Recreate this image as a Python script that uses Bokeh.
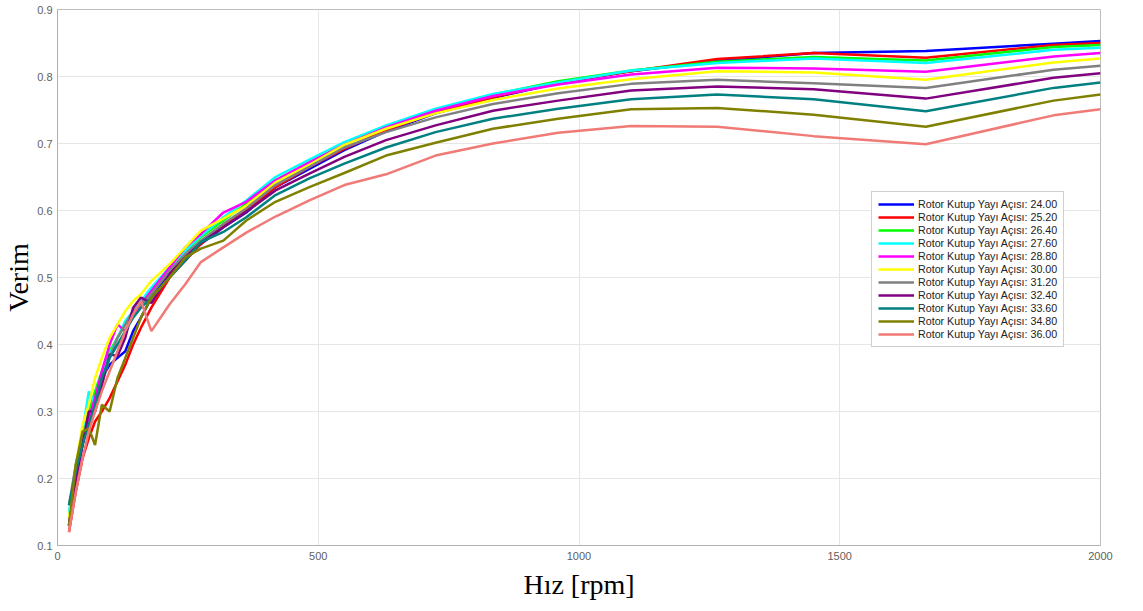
from bokeh.plotting import figure
from bokeh.models import Range1d, FixedTicker, Legend, LegendItem
from bokeh.embed import file_html
from bokeh.resources import INLINE

speed = [22, 35, 48, 60, 72, 85, 100, 115, 130, 145, 160, 180, 215, 245, 275, 318, 362, 418,
         483, 550, 630, 725, 835, 960, 1100, 1265, 1450, 1665, 1910, 2000]

angles = ["24.00", "25.20", "26.40", "27.60", "28.80", "30.00", "31.20", "32.40", "33.60", "34.80", "36.00"]

eff_2400 = [0.13, 0.20, 0.25, 0.29, 0.32, 0.35, 0.37, 0.38, 0.39, 0.42, 0.44, 0.47, 0.51, 0.53, 0.55, 0.575,
            0.597, 0.635, 0.662, 0.690, 0.718, 0.745, 0.768, 0.790, 0.808, 0.823, 0.835, 0.838, 0.849, 0.853]
eff_2520 = [0.12, 0.18, 0.23, 0.26, 0.285, 0.30, 0.32, 0.345, 0.37, 0.40, 0.425, 0.455, 0.50, 0.525, 0.55, 0.578,
            0.600, 0.635, 0.665, 0.692, 0.720, 0.746, 0.769, 0.791, 0.808, 0.826, 0.835, 0.828, 0.847, 0.850]
eff_2640 = [0.14, 0.21, 0.26, 0.30, 0.33, 0.36, 0.39, 0.41, 0.43, 0.45, 0.465, 0.48, 0.515, 0.54, 0.56, 0.585,
            0.610, 0.645, 0.672, 0.698, 0.724, 0.750, 0.773, 0.793, 0.809, 0.822, 0.829, 0.824, 0.844, 0.847]
eff_2760 = [0.15, 0.22, 0.27, 0.33, 0.31, 0.35, 0.385, 0.41, 0.435, 0.45, 0.465, 0.485, 0.515, 0.54, 0.562, 0.59,
            0.615, 0.650, 0.676, 0.702, 0.727, 0.752, 0.774, 0.791, 0.809, 0.820, 0.827, 0.820, 0.840, 0.843]
eff_2880 = [0.13, 0.20, 0.25, 0.29, 0.32, 0.36, 0.40, 0.43, 0.42, 0.445, 0.46, 0.48, 0.515, 0.545, 0.565, 0.597,
            0.613, 0.645, 0.672, 0.698, 0.724, 0.749, 0.771, 0.788, 0.803, 0.813, 0.812, 0.807, 0.830, 0.835]
eff_3000 = [0.14, 0.22, 0.28, 0.31, 0.35, 0.38, 0.41, 0.43, 0.45, 0.465, 0.475, 0.495, 0.52, 0.545, 0.57, 0.588,
            0.607, 0.642, 0.668, 0.698, 0.722, 0.745, 0.765, 0.782, 0.796, 0.808, 0.806, 0.795, 0.821, 0.827]
eff_3120 = [0.16, 0.22, 0.26, 0.28, 0.30, 0.34, 0.38, 0.41, 0.43, 0.45, 0.46, 0.475, 0.51, 0.535, 0.555, 0.58,
            0.603, 0.638, 0.665, 0.694, 0.717, 0.739, 0.759, 0.775, 0.789, 0.795, 0.790, 0.783, 0.810, 0.816]
eff_3240 = [0.13, 0.20, 0.25, 0.30, 0.30, 0.34, 0.385, 0.383, 0.41, 0.455, 0.47, 0.462, 0.505, 0.53, 0.552, 0.575,
            0.598, 0.630, 0.655, 0.680, 0.705, 0.727, 0.749, 0.764, 0.779, 0.785, 0.781, 0.767, 0.798, 0.805]
eff_3360 = [0.16, 0.21, 0.25, 0.28, 0.31, 0.35, 0.38, 0.40, 0.42, 0.44, 0.455, 0.47, 0.50, 0.525, 0.553, 0.568,
            0.590, 0.623, 0.648, 0.670, 0.694, 0.717, 0.737, 0.752, 0.766, 0.773, 0.766, 0.748, 0.783, 0.791]
eff_3480 = [0.13, 0.22, 0.27, 0.275, 0.25, 0.31, 0.30, 0.35, 0.38, 0.41, 0.44, 0.47, 0.50, 0.53, 0.543, 0.555,
            0.585, 0.613, 0.635, 0.656, 0.682, 0.701, 0.722, 0.737, 0.751, 0.753, 0.743, 0.725, 0.764, 0.773]
eff_3600 = [0.12, 0.18, 0.23, 0.27, 0.30, 0.33, 0.36, 0.39, 0.42, 0.445, 0.465, 0.42, 0.46, 0.49, 0.523, 0.545,
            0.567, 0.591, 0.615, 0.638, 0.654, 0.682, 0.700, 0.716, 0.726, 0.725, 0.711, 0.699, 0.742, 0.751]

series = [eff_2400, eff_2520, eff_2640, eff_2760, eff_2880, eff_3000,
          eff_3120, eff_3240, eff_3360, eff_3480, eff_3600]
colors = ["#0000ff", "#ff0000", "#00ff00", "#00ffff", "#ff00ff", "#ffff00",
          "#808080", "#800080", "#008080", "#808000", "#f07a76"]

x_ticks = [0, 500, 1000, 1500, 2000]
y_ticks = [0.1, 0.2, 0.3, 0.4, 0.5, 0.6, 0.7, 0.8, 0.9]

p = figure(width=1143, height=611, output_backend="svg", toolbar_location=None,
           x_range=Range1d(0, 2000), y_range=Range1d(0.1, 0.9),
           min_border_left=50, min_border_right=43, min_border_top=9, min_border_bottom=66)

p.background_fill_color = "white"
p.border_fill_color = "white"
p.outline_line_color = "#bdbdbd"
p.outline_line_width = 1

items = []
for ang, ys, c in zip(angles, series, colors):
    r = p.line(speed, ys, line_color=c, line_width=2.5)
    items.append(LegendItem(label="Rotor Kutup Yayı Açısı: " + ang, renderers=[r]))

legend = Legend(items=items, location=(814, 198))
legend.label_text_font = "Liberation Sans"
legend.label_text_font_size = "10.7px"
legend.label_text_color = "#222222"
legend.label_height = 12
legend.glyph_height = 12
legend.glyph_width = 36
legend.label_standoff = 4
legend.spacing = 1
legend.padding = 6
legend.margin = 0
legend.border_line_color = "#a0a0a0"
legend.border_line_width = 1
legend.background_fill_color = "white"
legend.background_fill_alpha = 1.0
p.add_layout(legend)

for ax in (p.xaxis[0], p.yaxis[0]):
    ax.axis_line_color = "#b0b0b0"
    ax.major_tick_line_color = "#b0b0b0"
    ax.major_tick_in = 0
    ax.major_tick_out = 0
    ax.minor_tick_line_color = None
    ax.major_label_text_font = "Liberation Sans"
    ax.major_label_text_font_size = "11px"
    ax.major_label_text_color = "#606060"
    ax.axis_label_text_font = "Liberation Serif"
    ax.axis_label_text_font_size = "28px"
    ax.axis_label_text_font_style = "normal"
    ax.axis_label_text_color = "#000000"

p.xaxis[0].ticker = FixedTicker(ticks=x_ticks)
p.yaxis[0].ticker = FixedTicker(ticks=y_ticks)
p.xaxis[0].axis_label = "Hız [rpm]"
p.yaxis[0].axis_label = "Verim"
p.xaxis[0].major_label_standoff = 6
p.yaxis[0].major_label_standoff = 5
p.xaxis[0].axis_label_standoff = 6
p.yaxis[0].axis_label_standoff = 0

p.xgrid.ticker = FixedTicker(ticks=x_ticks)
p.ygrid.ticker = FixedTicker(ticks=y_ticks)
p.xgrid.grid_line_color = "#e6e6e6"
p.ygrid.grid_line_color = "#e6e6e6"
p.xgrid.grid_line_width = 1
p.ygrid.grid_line_width = 1

open("out.html", "w").write(file_html(p, INLINE))
